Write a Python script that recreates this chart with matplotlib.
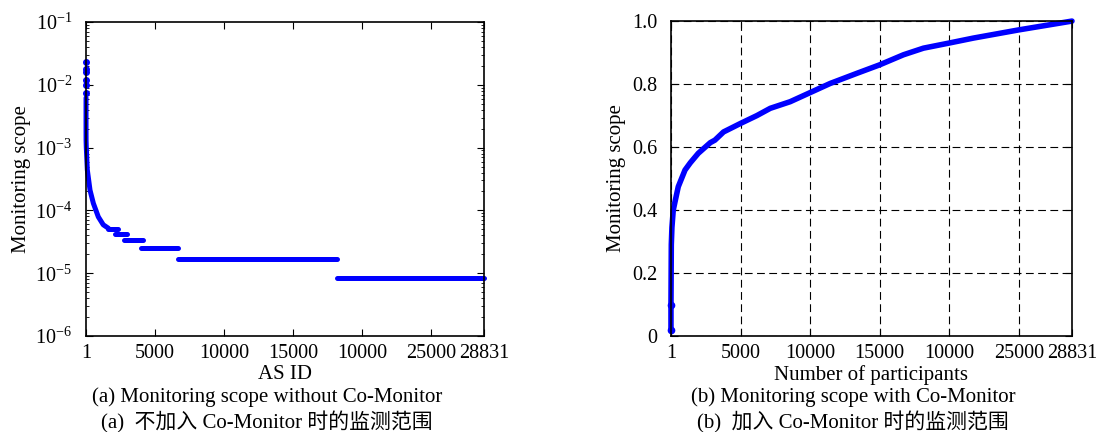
import matplotlib
matplotlib.use("Agg")
import matplotlib.pyplot as plt

plt.rcParams['font.family'] = ['Liberation Serif', 'Noto Sans CJK SC']
plt.rcParams['mathtext.fontset'] = 'stix'

# ---- data ----
x_ticks = [1, 5000, 10000, 15000, 20000, 25000, 28831]
x_ticklabels = ["1", "5000", "10000", "15000", "10000", "25000", "28831"]

# (a) without Co-Monitor: a few isolated top values, steep head, then flat steps
top_x = [1, 1, 1, 1, 1, 1]
top_y = [2.3e-2, 1.8e-2, 1.6e-2, 1.2e-2, 1.0e-2, 7.4e-3]
head_x = [1, 1, 2, 5, 20, 95, 290, 530, 890, 1250, 1620]
head_y = [6.2e-3, 3e-3, 1.8e-3, 1.3e-3, 1.0e-3, 4.4e-4, 2.1e-4, 1.3e-4,
          7.9e-5, 5.9e-5, 5.2e-5]
step_start = [1620, 2100, 2760, 3950, 6690, 18210]
step_end = [2340, 2950, 4130, 6690, 18210, 28831]
step_value = [5.0e-5, 4.2e-5, 3.35e-5, 2.5e-5, 1.67e-5, 8.3e-6]

# (b) with Co-Monitor: cumulative scope
part_x = [1, 1, 25, 70, 165, 310, 525, 1010, 1390, 1960, 2830, 3160, 3780,
          5000, 6180, 7140, 8570, 10010, 11450, 13360, 15000, 16715, 18150,
          19970, 21740, 25000, 28831]
part_y = [0.02, 0.1, 0.29, 0.345, 0.40, 0.43, 0.474, 0.527, 0.55, 0.58, 0.614,
          0.622, 0.648, 0.675, 0.70, 0.723, 0.744, 0.773, 0.802, 0.834, 0.861,
          0.893, 0.914, 0.93, 0.946, 0.972, 1.0]

blue = (0, 0, 1)

fig = plt.figure(figsize=(10.96, 4.32), dpi=100)
ax1 = fig.add_axes([0.0785, 0.2222, 0.3631, 0.7269])
ax2 = fig.add_axes([0.6122, 0.2222, 0.3659, 0.7290])

fs = 15
tfs = 14.5

# left panel
ax1.plot(top_x, top_y, 'o', color=blue, ms=4, clip_on=False)
ax1.plot(head_x, head_y, color=blue, lw=3.6, solid_capstyle='round', clip_on=False)
lc = ax1.hlines(step_value, step_start, step_end, colors=[blue], lw=3.6, clip_on=False)
lc.set_capstyle('round')
ax1.set_yscale('log')
ax1.set_ylim(1e-6, 1e-1)
ax1.set_xlim(1, 28831)
ax1.set_xticks(x_ticks)
ax1.set_xticklabels(x_ticklabels)
ax1.set_xlabel("AS ID", fontsize=fs, labelpad=1)
ax1.set_ylabel("Monitoring scope", fontsize=fs)
ax1.yaxis.set_label_coords(-0.138, 0.5)

# right panel
ax2.plot(part_x, part_y, color=blue, lw=4, solid_capstyle='round', clip_on=False)
ax2.plot(part_x[:2], part_y[:2], 'o', color=blue, ms=4.5, clip_on=False)
ax2.set_xlim(1, 28831)
ax2.set_ylim(0, 1.0)
ax2.set_xticks(x_ticks)
ax2.set_xticklabels(x_ticklabels)
ax2.set_yticks([0, 0.2, 0.4, 0.6, 0.8, 1.0])
ax2.set_yticklabels(["0", "0.2", "0.4", "0.6", "0.8", "1.0"])
ax2.grid(True, color='black', linestyle=(0, (7, 4)), lw=0.8)
ax2.set_xlabel("Number of participants", fontsize=fs, labelpad=1)
ax2.set_ylabel("Monitoring scope", fontsize=fs)
ax2.yaxis.set_label_coords(-0.113, 0.5)

for ax in (ax1, ax2):
    ax.tick_params(which='major', direction='in', top=True, right=True,
                   length=5, width=0.8, labelsize=tfs)
    ax.tick_params(axis='x', which='major', pad=6)
    ax.tick_params(axis='y', which='major', pad=10)
    ax.tick_params(which='minor', direction='in', top=False, right=True,
                   length=2.5, width=0.6)
    for s in ax.spines.values():
        s.set_linewidth(1.2)

# captions
fig.text(267 / 1096, 1 - 397 / 432, "(a) Monitoring scope without Co-Monitor",
         ha='center', va='center', fontsize=fs)
fig.text(267 / 1096, 1 - 422 / 432, "(a)  不加入 Co-Monitor 时的监测范围",
         ha='center', va='center', fontsize=fs)
fig.text(853 / 1096, 1 - 397 / 432, "(b) Monitoring scope with Co-Monitor",
         ha='center', va='center', fontsize=fs)
fig.text(853 / 1096, 1 - 422 / 432, "(b)  加入 Co-Monitor 时的监测范围",
         ha='center', va='center', fontsize=fs)

fig.savefig("out.png", dpi=100)
